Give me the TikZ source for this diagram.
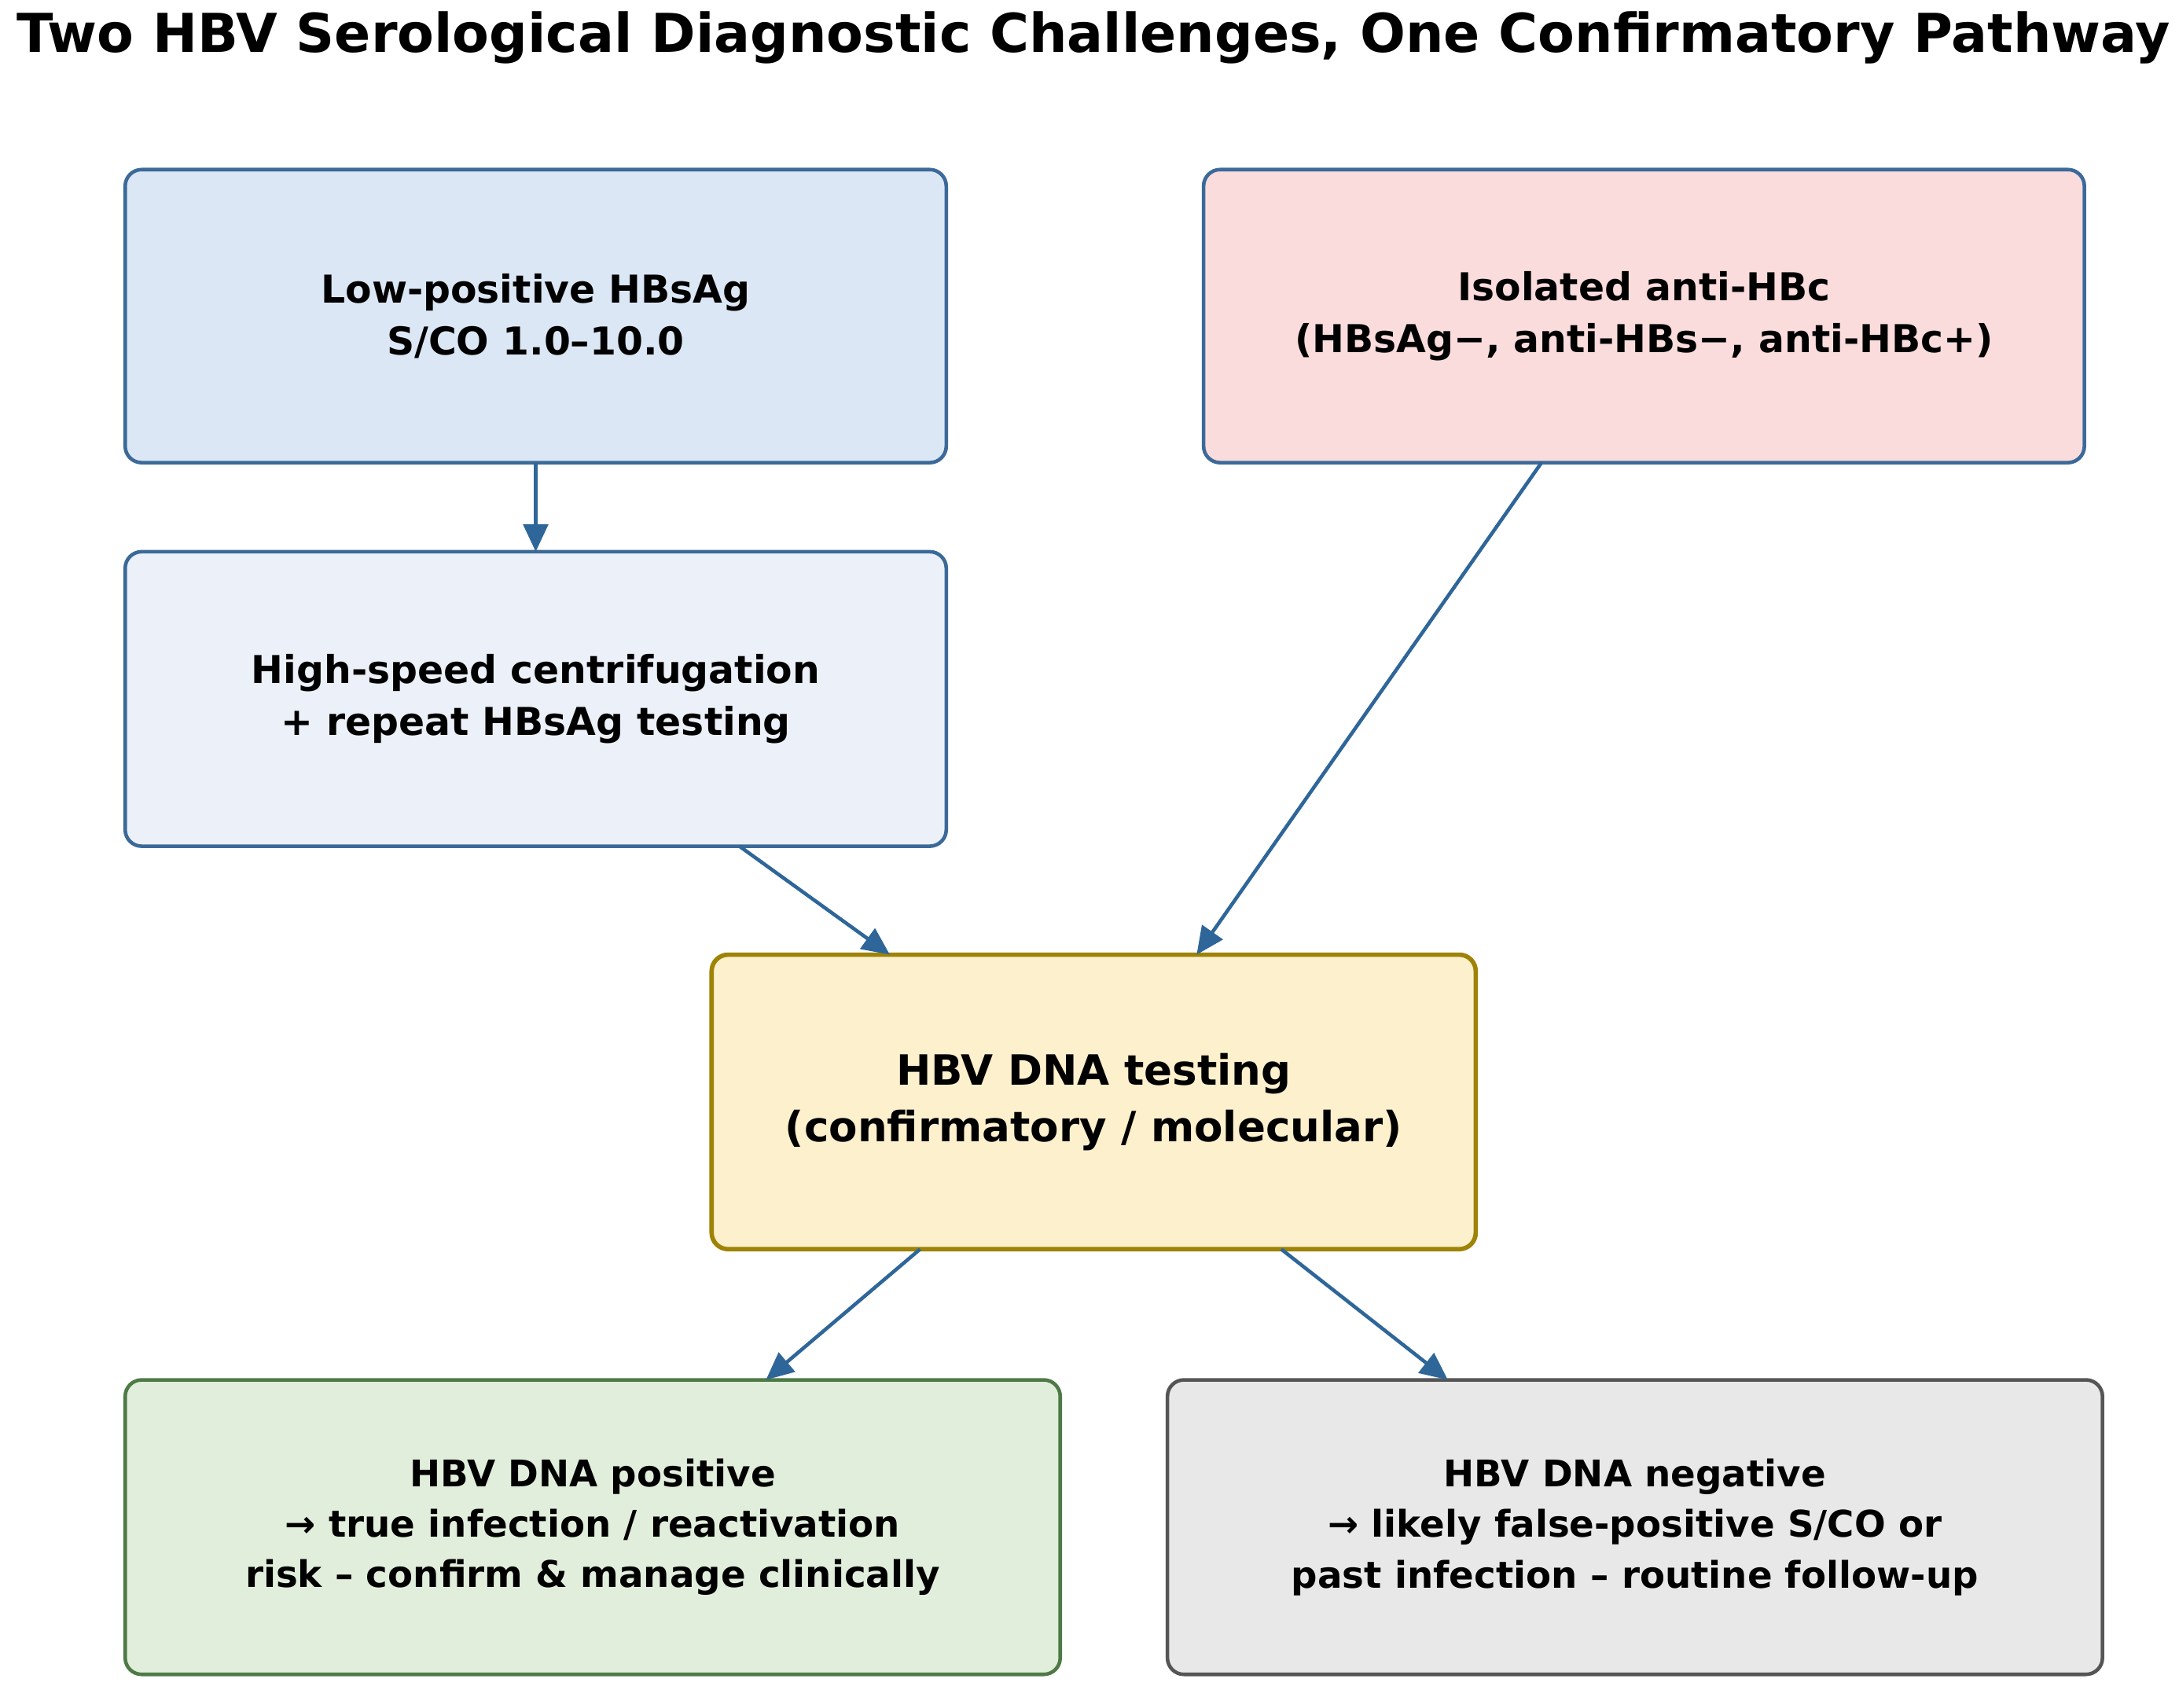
\documentclass[tikz,border=0pt]{standalone}
\usepackage{fontspec}
\setmainfont{DejaVu Sans}
\usetikzlibrary{arrows.meta}

\definecolor{flowblue}{HTML}{2F6699}
\definecolor{edgeblue}{HTML}{3B6A99}
\definecolor{lowfill}{HTML}{DCE7F5}
\definecolor{isofill}{HTML}{FADCDD}
\definecolor{spinfill}{HTML}{ECF0F8}
\definecolor{dnafill}{HTML}{FDF0CD}
\definecolor{dnaedge}{HTML}{9E8306}
\definecolor{posfill}{HTML}{E1EEDC}
\definecolor{posedge}{HTML}{4E7A45}
\definecolor{negfill}{HTML}{E8E8E8}
\definecolor{negedge}{HTML}{555555}

\tikzset{
  box/.style={rectangle, rounded corners=0.21cm, line width=1.3pt, align=center,
    inner sep=0pt, outer sep=0pt, font=\bfseries\fontsize{13.9}{18.9}\selectfont},
  flow/.style={line width=1.3pt, flowblue, -{Stealth[length=10pt,width=9pt,inset=0pt]}}
}

\begin{document}
\begin{tikzpicture}[x=0.01768cm,y=-0.01768cm]
	\useasboundingbox (0,0) rectangle (1568,1229);
	
	% Title
	\node (title) at (787,27) {\bfseries\fontsize{19.4}{23}\selectfont Two HBV Serological Diagnostic Challenges, One Confirmatory Pathway};
	
	% Define boxes
	\node[box, draw=edgeblue, fill=lowfill, minimum width=10.449cm, minimum height=3.730cm] (low) at (385.5,227.5)
		{Low-positive HBsAg\\S/CO 1.0–10.0};
	\node[box, draw=edgeblue, fill=isofill, minimum width=11.209cm, minimum height=3.730cm] (iso) at (1183,227.5)
		{Isolated anti-HBc\\(HBsAg−, anti-HBs−, anti-HBc+)};
	\node[box, draw=edgeblue, fill=spinfill, minimum width=10.449cm, minimum height=3.748cm] (spin) at (385.5,503)
		{High-speed centrifugation\\+ repeat HBsAg testing};
	\node[box, draw=dnaedge, fill=dnafill, line width=1.6pt, minimum width=9.724cm, minimum height=3.748cm,
		font=\bfseries\fontsize{15.1}{20.5}\selectfont] (dna) at (787,793)
		{HBV DNA testing\\(confirmatory / molecular)};
	\node[box, draw=posedge, fill=posfill, minimum width=11.899cm, minimum height=3.748cm,
		font=\bfseries\fontsize{13.3}{18.3}\selectfont] (pos) at (426.5,1099)
		{HBV DNA positive\\→ true infection / reactivation\\risk – confirm \& manage clinically};
	\node[box, draw=negedge, fill=negfill, minimum width=11.899cm, minimum height=3.748cm,
		font=\bfseries\fontsize{13.3}{18.3}\selectfont] (neg) at (1176.5,1099)
		{HBV DNA negative\\→ likely false-positive S/CO or\\past infection – routine follow-up};
	
	% Draw arrows
	\draw[flow] (low) -- (spin);
	\draw[flow] (spin) -- (dna);
	\draw[flow] (iso) -- (dna);
	\draw[flow] (dna) -- (pos);
	\draw[flow] (dna) -- (neg);
\end{tikzpicture}
\end{document}
